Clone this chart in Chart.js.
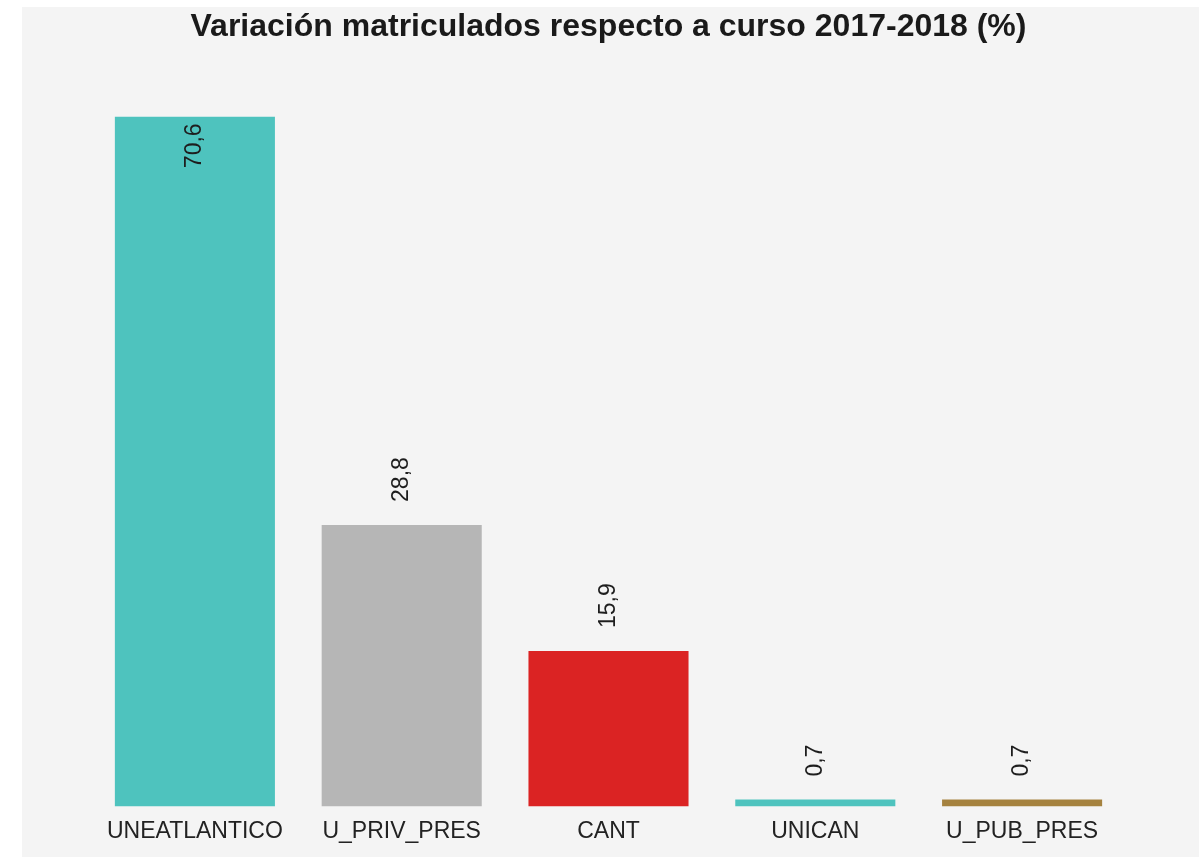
<!DOCTYPE html>
<html>
<head>
<meta charset="utf-8">
<script src="https://cdn.jsdelivr.net/npm/chart.js@4/dist/chart.umd.min.js"></script>
<style>
  html, body { margin: 0; padding: 0; background: #ffffff; }
  #wrap { position: absolute; left: 22px; top: 7px; width: 1177px; height: 850px; background: #f4f4f4; }
  canvas { display: block; }
</style>
</head>
<body>
<div id="wrap"><canvas id="c" width="1177" height="850"></canvas></div>
<script>
const categories = ["UNEATLANTICO", "U_PRIV_PRES", "CANT", "UNICAN", "U_PUB_PRES"];
const values = [70.6, 28.8, 15.9, 0.7, 0.7];
const valueLabels = ["70,6", "28,8", "15,9", "0,7", "0,7"];
const barColors = ["#4ec3be", "#b6b6b6", "#db2323", "#4ec3be", "#a5823f"];
const titleText = "Variación matriculados respecto a curso 2017-2018 (%)";

const FONT = "'Liberation Sans', Arial, Helvetica, sans-serif";

const valueLabelPlugin = {
  id: 'valueLabels',
  afterDatasetsDraw(chart) {
    const ctx = chart.ctx;
    const meta = chart.getDatasetMeta(0);
    const area = chart.chartArea;
    ctx.save();
    ctx.font = "23px " + FONT;
    ctx.fillStyle = "#1e1e1e";
    ctx.textBaseline = "middle";
    meta.data.forEach((bar, i) => {
      const txt = valueLabels[i];
      const w = ctx.measureText(txt).width;
      const gap = 23;
      ctx.save();
      if (bar.y - gap - w < area.top) {
        // inside the bar, text end near the bar top
        ctx.translate(bar.x, bar.y + 7);
        ctx.rotate(-Math.PI / 2);
        ctx.textAlign = "right";
      } else {
        // above the bar, text starts gap px above the top
        ctx.translate(bar.x, bar.y - gap);
        ctx.rotate(-Math.PI / 2);
        ctx.textAlign = "left";
      }
      ctx.fillText(txt, 0, 0);
      ctx.restore();
    });
    ctx.restore();
  }
};

new Chart(document.getElementById('c'), {
  type: 'bar',
  data: {
    labels: categories,
    datasets: [{
      data: values,
      backgroundColor: barColors,
      borderWidth: 0,
      barPercentage: 0.774,
      categoryPercentage: 1.0
    }]
  },
  options: {
    responsive: false,
    animation: false,
    devicePixelRatio: 1,
    layout: { padding: { left: 69.5, right: 73.5, top: 0, bottom: 9 } },
    plugins: {
      legend: { display: false },
      tooltip: { enabled: false },
      title: {
        display: true,
        text: titleText,
        color: "#1a1a1a",
        font: { family: FONT, size: 32, weight: 'bold', lineHeight: 1.2 },
        padding: { top: 1, bottom: 70 }
      }
    },
    scales: {
      x: {
        grid: { display: false },
        border: { display: false },
        ticks: { color: "#222222", font: { family: FONT, size: 23 }, padding: 3, maxRotation: 0, autoSkip: false }
      },
      y: {
        display: false,
        min: 0,
        max: Math.max(...values)
      }
    }
  },
  plugins: [valueLabelPlugin]
});
</script>
</body>
</html>
